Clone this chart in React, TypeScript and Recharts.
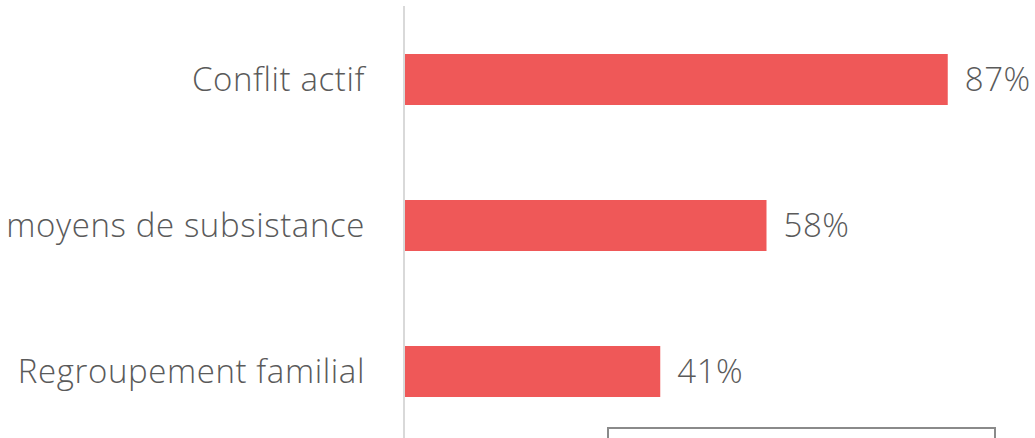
import React from "react";
import { BarChart, Bar, XAxis, YAxis, LabelList } from "recharts";

const categories = ["Conflit actif", "moyens de subsistance", "Regroupement familial"];
const values = [87, 58, 41];

const data = categories.map((name, i) => ({ name, value: values[i] }));

const FONT = "'Open Sans', 'Noto Sans', sans-serif";
const textStyle = { fill: "#5a5a5a", fontSize: 33, fontFamily: FONT, fontWeight: 300, letterSpacing: 0.6 };

export default function App() {
  return (
    <div style={{ position: "absolute", left: 0, top: 0, width: 1035, height: 438, overflow: "hidden", background: "#fff" }}>
      <BarChart
        width={1035}
        height={444}
        data={data}
        layout="vertical"
        margin={{ top: 6, right: 6, bottom: 0, left: 0 }}
      >
        <XAxis type="number" domain={[0, 100]} hide />
        <YAxis
          type="category"
          dataKey="name"
          width={404}
          tickSize={0}
          tickMargin={39}
          axisLine={{ stroke: "#d9d9d9", strokeWidth: 2 }}
          tickLine={false}
          tick={textStyle}
        />
        <Bar dataKey="value" fill="#EF5858" barSize={51} isAnimationActive={false}>
          <LabelList
            dataKey="value"
            position="right"
            offset={17}
            formatter={(v: number) => `${v}%`}
            style={textStyle}
          />
        </Bar>
      </BarChart>
      <div
        style={{
          position: "absolute",
          left: 607,
          top: 427,
          width: 385,
          height: 40,
          border: "2px solid #8a8a8a",
        }}
      />
    </div>
  );
}
